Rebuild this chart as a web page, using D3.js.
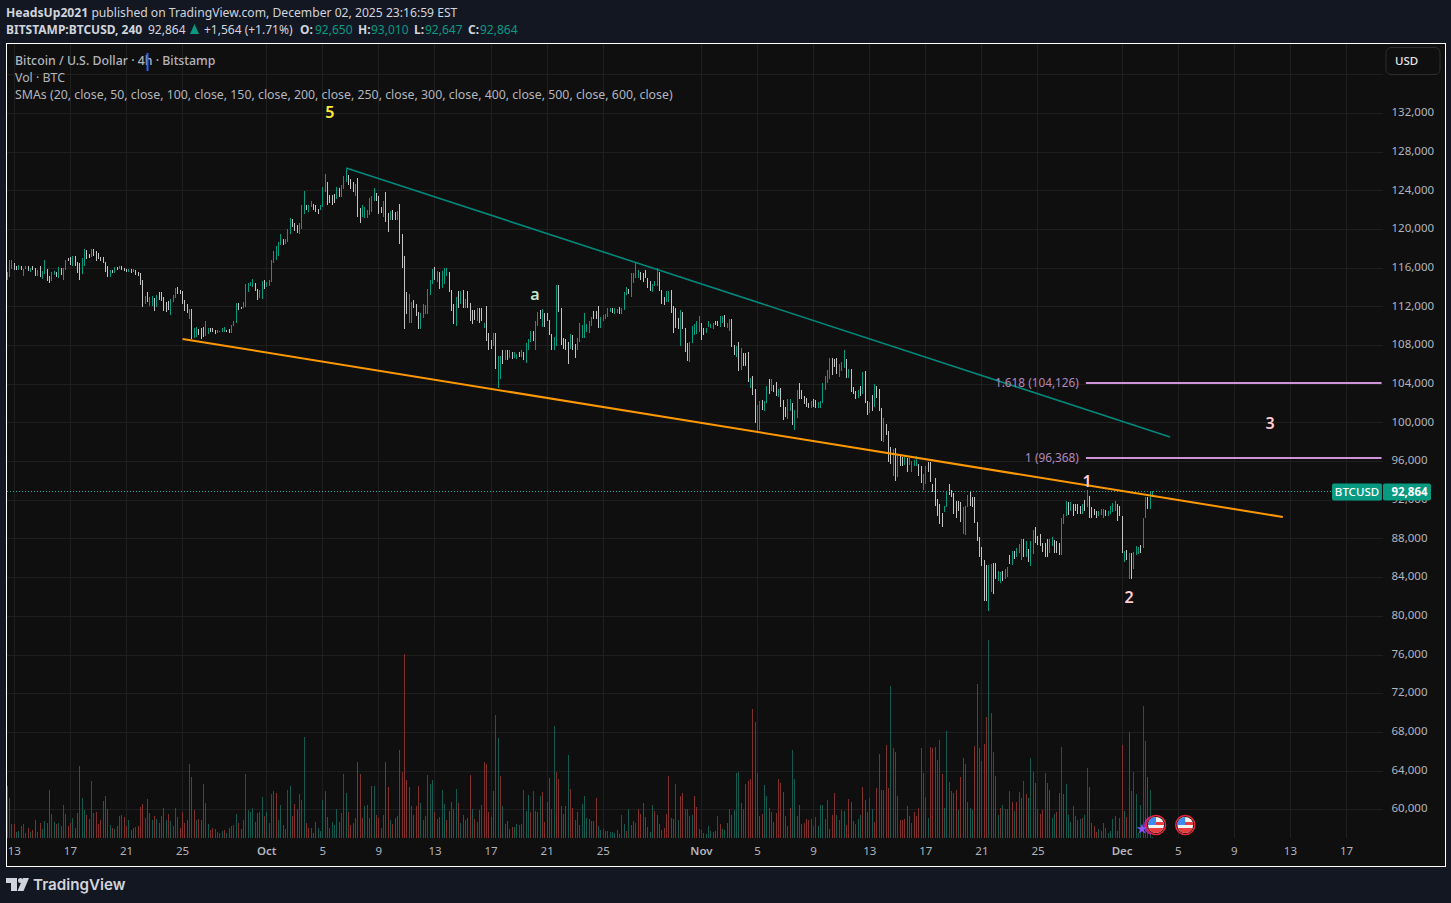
<!DOCTYPE html>
<html>
<head>
<meta charset="utf-8">
<script src="https://cdn.jsdelivr.net/npm/d3@7"></script>
<style>
html, body { margin: 0; padding: 0; background: #131722; overflow: hidden; }
svg { display: block; }
text { font-family: "Noto Sans", sans-serif; }
</style>
</head>
<body>
<svg id="chart" width="1451" height="903"></svg>
<script>
// 4h bars, prices in thousands of USD, last bar is the Dec 3 04:00 one
var barHigh = [
115.6,116.9,116.9,116.5,116.2,116.3,116.2,115.9,116.2,116.2,
116.0,116.2,116.0,115.8,116.2,115.7,116.9,115.9,115.2,115.6,
115.7,115.6,116.1,116.0,116.0,116.9,117.1,117.2,117.3,117.3,
116.7,116.5,117.1,118.0,117.9,117.5,118.0,118.0,117.8,117.6,
117.2,117.2,116.7,116.2,115.8,115.8,116.1,116.1,116.2,116.2,
116.0,115.9,115.9,115.9,115.9,115.8,115.6,115.5,114.8,113.1,
113.5,113.0,113.1,112.9,113.2,113.5,113.5,113.0,112.5,112.6,
112.8,113.2,114.0,114.1,113.8,113.7,112.7,112.3,111.8,111.8,
109.8,109.9,109.7,109.8,109.9,110.5,109.8,109.8,109.8,109.6,
109.6,109.5,109.8,109.9,109.6,109.7,110.1,110.5,112.4,112.4,
112.0,112.5,114.4,114.5,114.6,114.9,114.5,113.9,113.8,114.7,
114.8,114.6,114.8,116.9,117.8,118.3,118.7,119.6,119.0,119.0,
120.1,121.2,121.1,120.7,120.5,120.7,122.6,124.0,122.6,122.5,
123.0,122.7,122.6,122.1,122.6,124.4,125.8,124.9,123.6,123.6,
123.7,124.4,124.3,124.6,125.6,126.3,125.7,125.2,124.9,124.7,
125.3,122.2,122.5,122.3,122.0,123.3,123.5,124.3,123.8,123.5,
122.3,123.0,123.9,121.7,121.9,122.0,121.8,121.9,122.7,119.6,
117.3,113.6,113.3,112.5,112.7,112.3,111.5,111.4,112.3,112.2,
113.9,114.8,115.9,116.1,115.7,115.6,115.7,116.0,116.0,115.6,
113.8,112.3,113.0,113.7,113.7,113.8,112.8,113.7,112.4,111.7,
111.7,111.9,
111.9,111.9,110.3,112.1,109.3,108.6,109.3,109.3,106.9,106.9,
107.6,107.6,107.5,107.6,107.3,107.3,107.1,107.3,107.5,107.3,
108.3,108.7,109.5,109.5,110.5,111.5,111.7,111.8,111.4,111.4,
110.7,109.2,108.9,114.3,114.3,111.9,108.8,108.7,108.4,109.2,
109.1,108.2,108.8,110.3,110.1,111.4,110.2,110.5,111.0,111.6,
111.6,112.1,111.0,111.2,111.3,111.9,111.9,111.9,111.9,111.8,
112.0,111.9,113.5,114.1,113.9,115.5,115.5,116.5,115.8,115.6,
115.5,115.8,115.0,114.7,114.4,114.7,116.0,115.6,113.8,113.0,
113.7,113.7,113.8,112.1,111.9,110.9,111.7,111.5,109.8,108.3,
108.4,110.0,110.2,110.6,111.1,110.3,109.8,109.8,110.6,110.2,
110.3,110.6,110.5,111.1,111.1,111.2,110.3,110.8,110.8,
108.1,108.0,108.4,107.8,107.2,107.2,107.3,104.7,104.9,103.5,
101.9,102.3,102.4,102.3,103.8,104.5,104.6,103.9,104.2,103.5,
103.6,102.4,101.7,102.5,102.5,102.1,101.3,103.4,104.1,103.4,
102.8,102.6,102.1,102.3,102.5,102.4,102.2,102.3,104.1,104.9,
105.5,106.7,106.7,106.6,106.7,106.1,106.3,107.6,106.6,105.6,
105.6,103.7,103.3,103.4,103.8,105.3,105.4,102.3,102.2,102.9,
104.0,103.8,103.5,101.6,100.5,99.9,99.2,97.5,97.3,97.4,
96.8,96.6,96.5,96.5,96.4,96.4,96.1,96.2,96.6,95.8,
95.6,94.7,95.6,96.0,96.0,93.7,
94.3,92.1,91.6,90.7,91.4,93.0,93.7,93.1,92.8,91.9,
91.9,91.8,91.3,91.4,92.5,92.9,92.3,92.3,89.8,88.2,
87.2,85.8,85.3,85.3,85.4,85.5,85.5,84.7,84.6,84.7,
84.9,85.1,86.3,86.8,86.8,87.1,87.5,88.0,88.0,87.8,
87.0,87.8,88.9,89.2,88.3,88.5,87.6,87.6,88.0,88.0,
88.2,87.9,87.8,87.6,90.2,90.6,91.9,91.8,91.8,91.6,
91.6,91.6,91.4,91.6,92.0,93.1,92.4,91.3,91.1,90.9,
90.9,91.1,91.1,91.0,90.9,91.4,91.7,91.9,91.6,91.4,
90.4,86.8,86.9,86.5,86.6,86.7,87.3,87.2,87.4,90.2,
92.3,92.3,93.0,93.0];

var barLow = [
114.8,115.1,115.9,115.8,115.8,115.8,115.8,115.2,115.9,115.7,
115.6,115.8,115.2,115.2,115.1,114.9,115.4,114.7,114.5,114.7,
115.3,115.1,115.0,115.3,114.8,115.8,116.8,116.3,116.2,116.2,
115.5,114.8,115.4,116.2,117.0,117.1,117.2,117.3,116.8,117.0,
116.8,116.5,115.6,115.1,115.1,115.5,115.5,115.8,115.9,115.8,
115.7,115.6,115.6,115.5,115.6,115.3,115.2,114.3,112.0,112.3,
112.5,112.1,112.1,111.6,112.0,112.7,112.6,111.6,111.5,111.7,
111.2,112.5,112.9,113.3,113.3,112.3,111.6,111.4,110.8,108.7,
108.8,108.9,109.1,108.7,108.9,109.0,109.2,109.4,109.4,109.2,
109.3,109.4,109.4,109.4,109.4,109.3,109.3,110.0,110.3,111.7,
111.8,111.9,112.0,113.6,114.2,114.1,113.7,112.7,112.9,112.8,
113.9,114.1,114.2,114.6,116.5,116.9,117.3,118.4,118.4,118.5,
118.7,119.6,120.3,119.9,119.7,119.5,120.1,121.6,122.0,121.8,
122.3,122.0,121.8,121.6,122.0,122.3,123.9,122.6,122.8,122.6,
122.8,123.2,123.4,123.4,124.2,124.9,124.6,124.2,123.9,123.5,
121.3,120.7,121.3,121.2,121.2,121.5,121.8,123.0,123.0,121.6,
121.7,121.3,120.8,119.8,121.0,121.0,121.0,121.0,118.5,116.0,
109.7,111.3,110.3,110.3,111.9,111.1,109.7,109.7,110.9,111.3,
111.3,113.2,114.4,114.8,114.6,113.9,114.0,114.4,115.2,113.5,
111.6,110.2,110.0,111.9,112.3,111.9,111.9,111.9,110.6,110.2,
110.7,110.5,
110.3,110.5,109.8,108.5,107.6,107.7,108.0,105.6,103.6,104.6,
106.1,106.5,106.5,106.7,106.6,106.7,106.6,106.8,106.8,106.5,
106.2,107.5,108.4,108.5,107.6,110.0,110.8,109.9,109.9,110.6,
109.1,107.6,107.6,108.0,111.5,108.1,107.7,107.6,106.1,107.7,
107.6,106.7,107.6,108.4,108.8,108.8,109.4,109.3,110.0,110.8,
110.8,109.8,109.8,110.6,110.8,111.0,111.5,111.4,111.3,111.4,
111.3,111.3,111.7,113.2,113.3,113.0,114.5,115.0,115.0,114.8,
114.6,115.0,114.0,113.7,113.6,114.2,114.2,113.7,112.3,112.2,
112.5,112.5,111.4,109.3,109.8,109.7,108.0,109.7,107.3,106.4,
106.3,108.3,109.1,109.2,109.4,108.6,109.1,109.3,109.9,109.8,
109.7,110.1,110.0,109.9,110.3,109.9,109.8,109.5,107.9,
107.0,106.8,105.4,105.5,105.9,105.9,104.2,103.6,102.9,100.0,
99.0,99.3,101.3,101.2,102.1,103.0,103.3,103.2,102.8,102.7,
101.7,100.3,100.6,100.4,101.2,99.8,99.3,100.5,102.5,102.5,
102.0,101.7,101.5,101.5,101.7,101.6,101.6,101.6,102.1,103.4,
104.1,104.5,105.0,105.8,105.1,104.8,105.4,105.7,104.7,104.7,
103.2,103.0,102.5,102.6,102.8,103.0,102.1,100.8,101.0,101.2,
101.7,102.6,101.2,98.1,98.0,98.8,96.0,95.8,94.5,94.0,
94.4,95.6,95.6,95.7,94.9,95.7,94.9,95.6,95.6,94.5,
93.8,93.1,93.7,94.9,93.9,92.9,
91.4,90.4,89.5,89.2,90.8,91.3,92.5,92.3,90.6,90.2,
90.9,89.8,88.5,88.4,91.3,91.4,91.3,89.7,87.8,86.1,
85.2,81.6,81.6,80.5,82.5,82.3,83.9,83.7,83.4,83.7,
83.9,84.1,85.4,85.3,85.9,86.1,86.6,85.8,86.1,86.1,
85.6,85.2,86.4,87.6,87.4,87.3,86.7,86.1,86.1,86.6,
87.3,86.6,86.5,86.3,86.3,89.5,90.4,90.5,90.9,90.4,
90.9,90.6,90.6,90.6,90.9,91.3,90.2,90.2,90.5,90.2,
90.4,90.5,90.2,90.4,90.4,90.6,90.8,90.9,89.9,90.4,
86.5,85.6,85.8,83.9,83.9,84.9,86.3,86.4,86.5,87.1,
90.2,91.1,91.1,92.3];

var barUp = [
1,1,1,0,0,1,0,1,1,0,
1,0,0,1,0,1,1,0,0,1,
1,0,1,0,1,1,0,0,1,0,
0,0,1,1,0,0,1,0,0,0,
0,0,0,0,1,0,1,0,1,0,
0,0,1,0,1,0,0,0,0,1,
0,1,1,0,1,0,0,0,0,0,
1,1,1,0,0,0,0,0,1,0,
1,1,0,0,0,1,1,0,0,0,
1,1,1,1,0,0,1,1,1,0,
0,1,1,1,1,1,0,0,1,1,
0,1,1,1,1,1,1,1,0,1,
1,1,0,0,0,1,1,1,0,1,
1,0,0,0,1,1,1,0,0,0,
0,1,0,1,1,1,0,0,0,1,
0,0,1,1,1,1,1,1,0,0,
0,1,0,0,1,0,0,1,0,0,
0,0,1,1,0,0,0,1,1,1,
1,1,1,0,1,0,1,1,1,0,
0,0,1,0,1,0,1,0,0,0,
0,1,
0,0,1,0,0,0,1,0,1,1,
0,1,0,1,0,1,1,0,1,0,
1,1,1,0,1,1,0,1,0,0,
0,0,1,1,0,0,0,0,0,1,
0,0,1,1,1,1,1,1,1,0,
0,0,1,1,1,1,1,0,1,1,
0,1,1,1,0,1,1,1,1,0,
0,0,0,0,1,1,1,0,0,0,
1,1,0,0,0,0,1,0,0,0,
1,1,1,1,1,0,0,1,1,1,
1,0,0,1,1,0,1,1,0,
0,1,0,1,0,0,0,1,0,0,
1,1,0,1,1,0,1,0,0,1,
0,0,0,1,1,0,1,1,0,0,
0,0,0,1,0,0,1,1,1,1,
1,1,0,0,0,1,1,1,0,1,
0,0,0,1,0,1,0,0,1,0,
1,0,0,0,1,0,0,0,1,0,
1,0,0,1,0,1,1,1,1,0,
0,1,1,0,0,0,
0,0,0,0,1,1,0,0,0,0,
0,0,1,1,1,0,0,0,0,0,
0,0,0,1,1,0,0,1,1,0,
1,1,0,1,0,1,1,1,0,1,
0,1,1,0,0,0,0,0,0,1,
1,0,0,0,1,1,1,0,1,0,
0,0,0,1,0,1,0,0,0,0,
1,1,1,0,1,1,1,1,0,0,
0,1,0,1,0,1,1,1,0,1,
1,0,1,1];

// BTC volume per bar, in tens of BTC
var volume = [
52,40,14,14,6,7,12,14,5,10,
6,8,18,6,15,9,17,15,48,24,
16,14,15,12,33,24,12,15,20,10,
25,72,40,28,23,19,57,25,26,14,
18,37,42,29,13,10,9,12,22,23,
21,12,18,8,10,11,12,31,34,20,
39,25,18,22,19,15,22,30,18,24,
17,12,30,21,10,26,15,18,74,61,
28,18,19,18,54,35,14,8,10,9,
6,5,7,8,5,10,12,13,24,15,
9,18,64,28,26,30,16,25,26,41,
22,26,15,44,47,45,18,33,13,9,
48,52,22,34,29,44,38,101,15,10,
10,5,16,10,7,38,47,21,10,16,
13,29,16,25,64,45,26,13,15,20,
76,64,20,32,33,20,52,52,23,20,
10,23,76,51,18,14,20,22,88,66,
184,58,51,32,23,32,52,35,18,22,
63,54,58,26,19,21,48,34,18,27,
36,29,49,35,15,23,18,20,63,29,
19,16,28,33,76,74,26,21,47,123,
100,62,32,14,17,9,11,11,14,13,
14,48,27,43,26,47,27,26,42,46,
16,36,60,29,112,66,59,32,24,32,
83,49,30,18,26,13,34,42,20,19,
17,17,40,12,
8,9,7,7,6,6,5,8,4,23,
14,7,29,13,17,15,29,24,35,21,
11,6,33,27,23,14,8,10,24,62,
20,19,54,18,42,45,29,29,22,23,
42,31,9,8,5,4,12,7,6,7,
22,14,9,8,15,29,23,28,65,66,
35,29,54,57,59,129,116,65,22,24,
53,42,30,26,16,25,59,55,46,22,
12,30,88,59,22,33,14,15,19,18,
19,12,21,12,33,33,19,38,9,23,
45,23,18,28,27,13,39,36,17,14,
19,23,51,38,26,40,29,16,50,84,
48,48,93,50,152,90,86,42,18,18,
19,32,22,15,26,22,30,90,65,41,
20,91,90,91,78,98,64,30,107,56,
47,45,48,28,61,80,74,36,30,28,
92,154,90,77,94,121,198,125,86,62,
23,30,33,29,29,47,36,27,36,46,
40,57,44,40,80,66,55,29,24,28,
65,55,48,20,24,26,45,91,44,54,
23,16,32,22,18,19,20,23,70,51,
15,12,6,9,7,15,10,5,7,19,
22,7,20,93,27,21,106,47,66,44,
5,33,132,97,61,48,1];

var volUp = [
1,1,0,0,1,1,0,1,1,0,
1,0,0,1,0,1,1,0,0,1,
1,0,1,0,1,1,0,0,1,0,
0,0,1,1,0,0,1,0,0,0,
0,0,0,0,1,0,1,0,0,0,
0,0,1,0,0,0,0,0,0,1,
0,0,1,0,1,0,0,0,1,0,
1,1,1,1,0,0,0,0,1,0,
0,1,0,0,0,1,1,0,0,0,
1,1,1,0,1,0,1,1,1,0,
0,1,1,1,1,1,0,0,0,1,
0,1,1,1,1,0,1,1,0,1,
1,1,0,0,0,1,1,1,0,0,
1,0,0,1,1,1,1,0,0,1,
1,1,0,1,1,1,0,0,0,1,
0,0,0,1,1,1,0,1,0,0,
0,1,0,0,1,0,0,1,0,0,
0,0,0,1,0,0,0,1,1,1,
1,1,1,0,1,0,1,1,0,0,
0,0,1,0,1,0,1,0,0,1,
0,1,0,1,0,0,0,1,0,1,
1,0,1,1,0,1,0,1,1,1,
0,1,1,1,0,1,1,0,1,0,
0,0,0,1,1,0,0,0,1,0,
1,0,0,1,1,1,1,1,1,0,
1,0,0,1,
1,1,1,0,1,1,1,0,1,1,
1,0,1,1,1,1,0,0,0,0,
1,1,1,0,0,0,1,0,0,0,
0,0,1,1,0,0,1,1,1,1,
0,0,1,1,0,1,1,1,1,0,
1,0,1,1,0,0,0,1,1,1,
0,1,0,0,0,0,1,1,0,0,
1,1,0,0,0,0,0,0,0,1,
1,0,1,1,0,0,0,0,0,0,
1,1,1,1,1,1,1,1,1,0,
0,1,1,1,1,0,0,0,0,1,
1,1,0,0,0,1,1,0,0,0,
0,0,0,0,1,0,0,1,0,0,
0,0,0,1,0,0,0,0,1,1,
1,0,0,0,1,1,0,1,1,1,
0,0,0,1,0,0,1,1,1,1,
0,0,0,0,0,0,1,1,1,0,
1,0,1,1,1,1,0,1,0,1,
0,1,0,1,1,1,0,0,0,0,
0,0,0,1,1,0,0,1,0,1,
1,1,0,1,0,1,0,1,1,0,
0,0,0,1,1,0,1,1,1,1,
1,0,0,0,1,0,0,1,1,1,
1,1,1,1,0,1,1];

var lastBar = Date.UTC(2025, 11, 3, 4);
var priceTicks = [132,128,124,120,116,112,108,104,100,96,92,88,84,80,76,72,68,64,60];
var timeTickLabels = ["13","17","21","25","Oct","5","9","13","17","21","25","Nov","5","9","13","17","21","25","Dec","5","9","13","17"];
var timeTicks = [[8,13],[8,17],[8,21],[8,25],[9,1],[9,5],[9,9],[9,13],[9,17],[9,21],[9,25],
  [10,1],[10,5],[10,9],[10,13],[10,17],[10,21],[10,25],[11,1],[11,5],[11,9],[11,13],[11,17]]
  .map(function(d){ return new Date(Date.UTC(2025, d[0], d[1])); });

// drawings, [time, price in thousands]
var orangeLine = [[Date.UTC(2025,8,25,0), 108.69], [Date.UTC(2025,11,12,11), 90.28]];
var tealLine = [[Date.UTC(2025,9,6,16), 126.38], [Date.UTC(2025,11,4,10), 98.55]];
var fibStart = Date.UTC(2025,10,28,10);
var fibEnd = Date.UTC(2025,11,19,12);
var fibLevels = [104.126, 96.368];
var fibLabels = ["1.618 (104,126)", "1 (96,368)"];
var lastPrice = 92.864;
var waveLabels = ["5", "a", "1", "2", "3"];
var wavePoints = [[Date.UTC(2025,9,5,12), 132.1], [Date.UTC(2025,9,20,3), 113.3], [Date.UTC(2025,10,28,12), 94.0], [Date.UTC(2025,11,1,12), 82.0], [Date.UTC(2025,11,11,13), 100]];
var waveColors = ["#ffeb3b", "#c8e6c9", "#ffcdd2", "#ffcdd2", "#ffcdd2"];
var eventTimes = [Date.UTC(2025,11,3,10), Date.UTC(2025,11,5,12)];

var svg = d3.select("#chart");
var x = d3.scaleUtc().domain([Date.UTC(2025,8,13), Date.UTC(2025,11,17)]).range([14.3, 1346.5]);
var y = d3.scaleLinear().domain([128, 76]).range([152.3, 655]);
var yVol = d3.scaleLinear().domain([0, 198]).range([838, 640]);
var barTime = function(i, n){ return lastBar - (n - 1 - i) * 4 * 3600 * 1000; };

// chart panel
svg.append("rect").attr("x", 6.5).attr("y", 43.5).attr("width", 1439).attr("height", 823)
  .attr("fill", "#0f0f0f").attr("stroke", "#ffffff").attr("stroke-width", 1);

// grid
var grid = svg.append("g").attr("stroke", "#1f1f1f").attr("stroke-width", 1).attr("shape-rendering", "crispEdges");
grid.selectAll(".h").data([136].concat(priceTicks)).enter().append("line")
  .attr("x1", 7).attr("x2", 1383).attr("y1", function(d){ return y(d); }).attr("y2", function(d){ return y(d); });
grid.selectAll(".v").data(timeTicks).enter().append("line")
  .attr("y1", 44).attr("y2", 838).attr("x1", function(d){ return x(d); }).attr("x2", function(d){ return x(d); });

// volume
svg.append("g").attr("shape-rendering", "crispEdges").selectAll("line").data(volume).enter().append("line")
  .attr("x1", function(d, i){ return x(barTime(i, volume.length)); })
  .attr("x2", function(d, i){ return x(barTime(i, volume.length)); })
  .attr("y1", yVol(0))
  .attr("y2", function(d){ return yVol(d); })
  .attr("stroke", function(d, i){ return volUp[i] ? "#15594f" : "#7f2f2c"; })
  .attr("stroke-width", 1);

// price bars
svg.append("g").attr("shape-rendering", "crispEdges").selectAll("line").data(barHigh).enter().append("line")
  .attr("x1", function(d, i){ return x(barTime(i, barHigh.length)); })
  .attr("x2", function(d, i){ return x(barTime(i, barHigh.length)); })
  .attr("y1", function(d){ return y(d); })
  .attr("y2", function(d, i){ return y(barLow[i]); })
  .attr("stroke", function(d, i){ return barUp[i] ? "#089981" : "#c4c4c4"; })
  .attr("stroke-width", 1);

// last price dotted line
svg.append("line").attr("x1", 7).attr("x2", 1383).attr("y1", y(lastPrice)).attr("y2", y(lastPrice))
  .attr("stroke", "#12b39a").attr("stroke-dasharray", "1 2").attr("stroke-width", 1).attr("shape-rendering", "crispEdges");

// trend lines
var trend = d3.line().x(function(d){ return x(d[0]); }).y(function(d){ return y(d[1]); });
svg.append("path").attr("d", trend(tealLine)).attr("fill", "none").attr("stroke", "#00897b").attr("stroke-width", 1.6);
svg.append("path").attr("d", trend(orangeLine)).attr("fill", "none").attr("stroke", "#ff9800").attr("stroke-width", 2);

// fib levels
svg.selectAll(".fib").data(fibLevels).enter().append("line")
  .attr("x1", x(fibStart)).attr("x2", x(fibEnd))
  .attr("y1", function(d){ return y(d); }).attr("y2", function(d){ return y(d); })
  .attr("stroke", "#ce93d8").attr("stroke-width", 2);
svg.selectAll(".fibt").data(fibLevels).enter().append("text")
  .attr("x", x(fibStart) - 7).attr("y", function(d){ return y(d); }).attr("dy", "0.35em")
  .attr("text-anchor", "end").attr("font-size", 11.8).attr("fill", "#b388bb")
  .text(function(d, i){ return fibLabels[i]; });

// wave labels
svg.selectAll(".wave").data(waveLabels).enter().append("text")
  .attr("x", function(d, i){ return x(wavePoints[i][0]); })
  .attr("y", function(d, i){ return y(wavePoints[i][1]); })
  .attr("dy", "0.35em").attr("text-anchor", "middle")
  .attr("font-size", 16).attr("font-weight", 600)
  .attr("fill", function(d, i){ return waveColors[i]; })
  .text(function(d){ return d; });

// axes
var yAxis = d3.axisRight(y).tickValues(priceTicks).tickSize(0).tickPadding(0)
  .tickFormat(function(d){ return d3.format(",")(d * 1000); });
var yG = svg.append("g").attr("transform", "translate(1391.5,-1.5)").call(yAxis);
yG.select(".domain").remove();
yG.selectAll("text").attr("font-size", 11.5).attr("fill", "#b2b5be").style("font-family", "'Noto Sans'");

var xAxis = d3.axisBottom(x).tickValues(timeTicks).tickSize(0).tickPadding(0)
  .tickFormat(function(d, i){ return timeTickLabels[i]; });
var xG = svg.append("g").attr("transform", "translate(-0.5,846.5)").call(xAxis);
xG.select(".domain").remove();
xG.selectAll("text").attr("font-size", 11.5).attr("fill", "#b2b5be").style("font-family", "'Noto Sans'")
  .attr("font-weight", function(d, i){ return isNaN(+timeTickLabels[i]) ? 600 : 400; });

// last price tag
var tagY = y(lastPrice);
svg.append("rect").attr("x", 1332).attr("y", tagY - 8.5).attr("width", 50).attr("height", 17).attr("rx", 2).attr("fill", "#089981");
svg.append("rect").attr("x", 1383).attr("y", tagY - 8.5).attr("width", 48).attr("height", 17).attr("rx", 2).attr("fill", "#089981");
svg.append("text").attr("x", 1357).attr("y", tagY).attr("dy", "0.35em").attr("text-anchor", "middle").attr("font-size", 11.5).attr("font-weight", 500).attr("fill", "#fff").text("BTCUSD");
svg.append("text").attr("x", 1409.5).attr("y", tagY).attr("dy", "0.35em").attr("text-anchor", "middle").attr("font-size", 11.5).attr("font-weight", 700).attr("fill", "#fff").text("92,864");

// USD button
svg.append("rect").attr("x", 1386).attr("y", 47.5).attr("width", 54).attr("height", 27).attr("rx", 5)
  .attr("fill", "#0f0f0f").attr("stroke", "#2e2e2e");
svg.append("text").attr("x", 1395).attr("y", 65).attr("font-size", 11.5).attr("font-weight", 500).attr("fill", "#e6e6e6").text("USD");

// header lines
var head1 = svg.append("text").attr("x", 6).attr("y", 17).attr("font-size", 12.15).attr("fill", "#d1d4dc");
head1.append("tspan").attr("font-weight", 700).text("HeadsUp2021");
head1.append("tspan").text(" published on TradingView.com, December 02, 2025 23:16:59 EST");

var head2 = [
  [6, "BITSTAMP:BTCUSD, 240", 700, "#d1d4dc"], [148, "92,864", 400, "#d1d4dc"], [204, "+1,564 (+1.71%)", 400, "#d1d4dc"],
  [300, "O:", 700, "#d1d4dc"], [315, "92,650", 400, "#089981"], [358, "H:", 700, "#d1d4dc"], [371, "93,010", 400, "#089981"],
  [414, "L:", 700, "#d1d4dc"], [425, "92,647", 400, "#089981"], [468, "C:", 700, "#d1d4dc"], [480, "92,864", 400, "#089981"]
];
svg.selectAll(".h2").data(head2).enter().append("text")
  .attr("x", function(d){ return d[0]; }).attr("y", 34).attr("font-size", 12)
  .attr("font-weight", function(d){ return d[2]; }).attr("fill", function(d){ return d[3]; })
  .text(function(d){ return d[1]; });
svg.append("path").attr("d", "M190 34L194.5 24L199 34Z").attr("fill", "#089981");

// legend
var legend = ["Bitcoin / U.S. Dollar · 4h · Bitstamp", "Vol · BTC", "SMAs (20, close, 50, close, 100, close, 150, close, 200, close, 250, close, 300, close, 400, close, 500, close, 600, close)"];
svg.selectAll(".lg").data(legend).enter().append("text")
  .attr("x", 15).attr("y", function(d, i){ return 64.5 + i * 17; }).attr("font-size", 12.33)
  .attr("font-weight", function(d, i){ return i == 0 ? 500 : 400; }).attr("fill", "#b2b5be")
  .text(function(d){ return d; });
svg.append("rect").attr("x", 146.5).attr("y", 53).attr("width", 2).attr("height", 18).attr("fill", "#2962ff");

// economic event markers
var purpleAt = x(eventTimes[0]) - 5;
svg.append("path").attr("d", "M" + purpleAt + " 817A9 9 0 0 0 " + purpleAt + " 834").attr("fill", "none").attr("stroke", "#9c27b0").attr("stroke-width", 2);
svg.append("path").attr("d", d3.symbol().type(d3.symbolStar).size(36)()).attr("transform", "translate(1142,829)").attr("fill", "#7e57ff");
var defs = svg.append("defs");
defs.append("clipPath").attr("id", "flagClip").append("circle").attr("r", 8);
var flags = svg.selectAll(".flag").data(eventTimes).enter().append("g")
  .attr("transform", function(d){ return "translate(" + x(d) + ",825)"; });
flags.append("circle").attr("r", 9.5).attr("fill", "#0f0f0f").attr("stroke", "#e8263c").attr("stroke-width", 1.5);
var flagBody = flags.append("g").attr("clip-path", "url(#flagClip)");
flagBody.append("rect").attr("x", -8).attr("y", -8).attr("width", 16).attr("height", 16).attr("fill", "#f2f2f2");
flagBody.append("rect").attr("x", -8).attr("y", -3).attr("width", 16).attr("height", 3).attr("fill", "#e53d3d");
flagBody.append("rect").attr("x", -8).attr("y", 3).attr("width", 16).attr("height", 5).attr("fill", "#e53d3d");
flagBody.append("rect").attr("x", -8).attr("y", -8).attr("width", 8).attr("height", 8).attr("fill", "#3d8bf0");

// TradingView mark
svg.append("path").attr("d", "M6 878H17V891H11V883H6Z").attr("fill", "#d1d4dc");
svg.append("circle").attr("cx", 20.5).attr("cy", 880.5).attr("r", 2.5).attr("fill", "#d1d4dc");
svg.append("path").attr("d", "M23 878H29L23.5 891H17.5Z").attr("fill", "#d1d4dc");
svg.append("text").attr("x", 33).attr("y", 890).style("font-family", "Inter").attr("font-size", 15.2).attr("font-weight", 600).attr("fill", "#d1d4dc").text("TradingView");
</script>
</body>
</html>
